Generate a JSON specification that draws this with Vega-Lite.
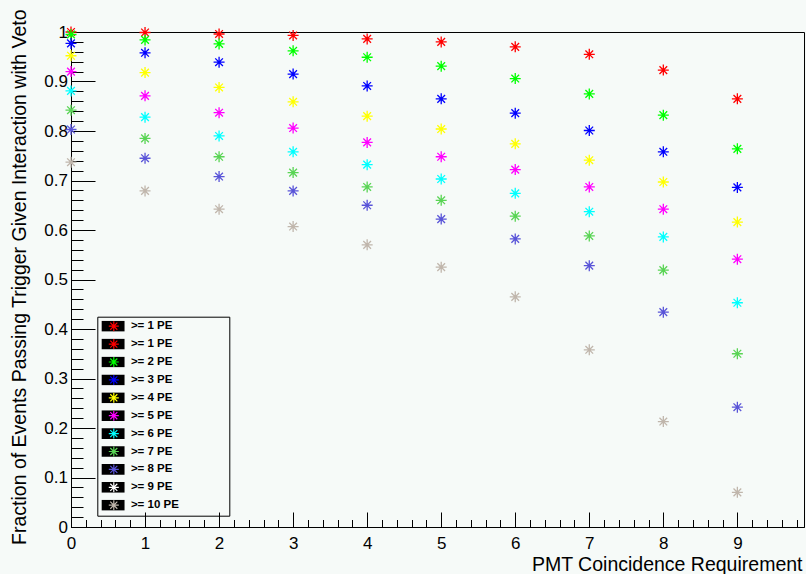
{
"$schema": "https://vega.github.io/schema/vega-lite/v6.json",
"width": 733, "height": 495,
"autosize": {"type": "none"},
"padding": {"left": 71, "top": 32, "right": 2, "bottom": 47},
"background": "#f6faf8",
"config": {"view": {"stroke": "black", "strokeWidth": 1}, "font": "Liberation Sans", "legend": {"strokeWidth": 1}},
"data": {"values": [
{"x":0,"y":1.0,"series":">= 1 PE"},{"x":0,"y":0.995,"series":">= 2 PE"},{"x":0,"y":0.977,"series":">= 3 PE"},{"x":0,"y":0.952,"series":">= 4 PE"},{"x":0,"y":0.920,"series":">= 5 PE"},{"x":0,"y":0.881,"series":">= 6 PE"},{"x":0,"y":0.842,"series":">= 7 PE"},{"x":0,"y":0.803,"series":">= 8 PE"},{"x":0,"y":0.737,"series":">= 10 PE"},
{"x":1,"y":0.999,"series":">= 1 PE"},{"x":1,"y":0.984,"series":">= 2 PE"},{"x":1,"y":0.958,"series":">= 3 PE"},{"x":1,"y":0.918,"series":">= 4 PE"},{"x":1,"y":0.871,"series":">= 5 PE"},{"x":1,"y":0.828,"series":">= 6 PE"},{"x":1,"y":0.785,"series":">= 7 PE"},{"x":1,"y":0.745,"series":">= 8 PE"},{"x":1,"y":0.679,"series":">= 10 PE"},
{"x":2,"y":0.996,"series":">= 1 PE"},{"x":2,"y":0.976,"series":">= 2 PE"},{"x":2,"y":0.939,"series":">= 3 PE"},{"x":2,"y":0.888,"series":">= 4 PE"},{"x":2,"y":0.837,"series":">= 5 PE"},{"x":2,"y":0.790,"series":">= 6 PE"},{"x":2,"y":0.748,"series":">= 7 PE"},{"x":2,"y":0.708,"series":">= 8 PE"},{"x":2,"y":0.642,"series":">= 10 PE"},
{"x":3,"y":0.993,"series":">= 1 PE"},{"x":3,"y":0.962,"series":">= 2 PE"},{"x":3,"y":0.915,"series":">= 3 PE"},{"x":3,"y":0.859,"series":">= 4 PE"},{"x":3,"y":0.806,"series":">= 5 PE"},{"x":3,"y":0.758,"series":">= 6 PE"},{"x":3,"y":0.716,"series":">= 7 PE"},{"x":3,"y":0.679,"series":">= 8 PE"},{"x":3,"y":0.607,"series":">= 10 PE"},
{"x":4,"y":0.986,"series":">= 1 PE"},{"x":4,"y":0.949,"series":">= 2 PE"},{"x":4,"y":0.891,"series":">= 3 PE"},{"x":4,"y":0.830,"series":">= 4 PE"},{"x":4,"y":0.777,"series":">= 5 PE"},{"x":4,"y":0.732,"series":">= 6 PE"},{"x":4,"y":0.687,"series":">= 7 PE"},{"x":4,"y":0.650,"series":">= 8 PE"},{"x":4,"y":0.570,"series":">= 10 PE"},
{"x":5,"y":0.980,"series":">= 1 PE"},{"x":5,"y":0.931,"series":">= 2 PE"},{"x":5,"y":0.865,"series":">= 3 PE"},{"x":5,"y":0.804,"series":">= 4 PE"},{"x":5,"y":0.748,"series":">= 5 PE"},{"x":5,"y":0.703,"series":">= 6 PE"},{"x":5,"y":0.660,"series":">= 7 PE"},{"x":5,"y":0.622,"series":">= 8 PE"},{"x":5,"y":0.525,"series":">= 10 PE"},
{"x":6,"y":0.970,"series":">= 1 PE"},{"x":6,"y":0.906,"series":">= 2 PE"},{"x":6,"y":0.836,"series":">= 3 PE"},{"x":6,"y":0.774,"series":">= 4 PE"},{"x":6,"y":0.722,"series":">= 5 PE"},{"x":6,"y":0.674,"series":">= 6 PE"},{"x":6,"y":0.628,"series":">= 7 PE"},{"x":6,"y":0.582,"series":">= 8 PE"},{"x":6,"y":0.465,"series":">= 10 PE"},
{"x":7,"y":0.955,"series":">= 1 PE"},{"x":7,"y":0.875,"series":">= 2 PE"},{"x":7,"y":0.801,"series":">= 3 PE"},{"x":7,"y":0.741,"series":">= 4 PE"},{"x":7,"y":0.687,"series":">= 5 PE"},{"x":7,"y":0.637,"series":">= 6 PE"},{"x":7,"y":0.588,"series":">= 7 PE"},{"x":7,"y":0.528,"series":">= 8 PE"},{"x":7,"y":0.358,"series":">= 10 PE"},
{"x":8,"y":0.923,"series":">= 1 PE"},{"x":8,"y":0.832,"series":">= 2 PE"},{"x":8,"y":0.758,"series":">= 3 PE"},{"x":8,"y":0.697,"series":">= 4 PE"},{"x":8,"y":0.642,"series":">= 5 PE"},{"x":8,"y":0.586,"series":">= 6 PE"},{"x":8,"y":0.519,"series":">= 7 PE"},{"x":8,"y":0.434,"series":">= 8 PE"},{"x":8,"y":0.213,"series":">= 10 PE"},
{"x":9,"y":0.865,"series":">= 1 PE"},{"x":9,"y":0.764,"series":">= 2 PE"},{"x":9,"y":0.686,"series":">= 3 PE"},{"x":9,"y":0.616,"series":">= 4 PE"},{"x":9,"y":0.541,"series":">= 5 PE"},{"x":9,"y":0.453,"series":">= 6 PE"},{"x":9,"y":0.350,"series":">= 7 PE"},{"x":9,"y":0.242,"series":">= 8 PE"},{"x":9,"y":0.070,"series":">= 10 PE"}
]},
"layer": [
{
"mark": {"type": "point", "shape": "M0,-1L0,1M-1,0L1,0M-0.7,-0.7L0.7,0.7M-0.7,0.7L0.7,-0.7", "filled": false, "size": 121, "strokeWidth": 1.3, "opacity": 1},
"encoding": {
"x": {"field": "x", "type": "quantitative", "scale": {"domain": [0, 9.9], "nice": false, "zero": false},
 "axis": {"orient": "bottom", "values": [0,1,2,3,4,5,6,7,8,9], "format": "d", "tickSize": -15, "tickColor": "black", "tickWidth": 1, "domainColor": "black", "domainWidth": 1, "grid": false, "labelFlush": false, "labelOverlap": false, "labelFont": "Liberation Sans", "labelFontSize": 17, "labelColor": "black", "labelPadding": 23.4, "title": "PMT Coincidence Requirement", "titleFont": "Liberation Sans", "titleFontSize": 19.5, "titleFontWeight": "normal", "titleColor": "black", "titleAnchor": "end", "titleAlign": "right", "titleX": 731, "titleY": 43.7, "titleBaseline": "alphabetic"}},
"y": {"field": "y", "type": "quantitative", "scale": {"domain": [0, 1], "nice": false, "zero": false},
 "axis": {"orient": "left", "values": [0,0.1,0.2,0.3,0.4,0.5,0.6,0.7,0.8,0.9,1], "format": "~g", "tickSize": -24, "tickColor": "black", "tickWidth": 1, "domainColor": "black", "domainWidth": 1, "grid": false, "labelOverlap": false, "labelFlush": false, "labelFont": "Liberation Sans", "labelFontSize": 17, "labelColor": "black", "labelPadding": 27.5, "title": "Fraction of Events Passing Trigger Given Interaction with Veto", "titleFont": "Liberation Sans", "titleFontSize": 19.5, "titleFontWeight": "normal", "titleColor": "black", "titleAnchor": "end", "titleAlign": "right", "titleAngle": -90, "titleX": -46, "titleY": -23, "titleBaseline": "alphabetic"}},
"stroke": {"field": "series", "type": "nominal",
 "scale": {"domain": [">= 1 PE ", ">= 1 PE", ">= 2 PE", ">= 3 PE", ">= 4 PE", ">= 5 PE", ">= 6 PE", ">= 7 PE", ">= 8 PE", ">= 9 PE", ">= 10 PE"],
  "range": ["#ff0000", "#ff0000", "#00ff00", "#0000ff", "#ffff00", "#ff00ff", "#00ffff", "#59d454", "#5954d8", "#ffffff", "#c0b6ac"]},
 "legend": {"orient": "none", "legendX": 26.3, "legendY": 284.7, "title": null, "symbolType": "M1.09,-0.91L1.09,0.91M0.18,0L2,0M0.45,-0.64L1.73,0.64M0.45,0.64L1.73,-0.64", "symbolSize": 121, "symbolStrokeWidth": 1.2, "symbolFillColor": "transparent", "labelFont": "Liberation Sans", "labelFontSize": 11.5, "labelFontWeight": "bold", "labelColor": "black", "labelOffset": 16.6, "clipHeight": 11, "rowPadding": 5.9, "padding": 4, "zindex": 2}},
"fill": {"field": "series", "type": "nominal",
 "scale": {"domain": [">= 10 PE", ">= 9 PE", ">= 8 PE", ">= 7 PE", ">= 6 PE", ">= 5 PE", ">= 4 PE", ">= 3 PE", ">= 2 PE", ">= 1 PE", ">= 1 PE "],
  "range": ["black", "black", "black", "black", "black", "black", "black", "black", "black", "black", "black"]},
 "legend": {"orient": "none", "legendX": 26.3, "legendY": 284.7, "title": null, "symbolType": "M-1,-0.97H3.18V0.97H-1Z", "symbolSize": 121, "symbolStrokeWidth": 0, "symbolStrokeColor": "transparent", "labelExpr": "''", "labelFont": "Liberation Sans", "labelFontSize": 11.5, "labelFontWeight": "bold", "labelColor": "transparent", "labelOffset": 111.7, "clipHeight": 11, "rowPadding": 5.9, "padding": 4, "strokeColor": "black", "zindex": 1}}
}
},
{
"mark": {"type": "point", "opacity": 0},
"encoding": {
"x": {"field": "x", "type": "quantitative", "scale": {"domain": [0, 9.9], "nice": false, "zero": false},
 "axis": {"orient": "bottom", "values": [0.2,0.4,0.6,0.8,1.2,1.4,1.6,1.8,2.2,2.4,2.6,2.8,3.2,3.4,3.6,3.8,4.2,4.4,4.6,4.8,5.2,5.4,5.6,5.8,6.2,6.4,6.6,6.8,7.2,7.4,7.6,7.8,8.2,8.4,8.6,8.8,9.2,9.4,9.6,9.8], "tickSize": -7.5, "tickColor": "black", "tickWidth": 1, "domain": false, "labels": false, "grid": false, "title": null}},
"y": {"field": "y", "type": "quantitative", "scale": {"domain": [0, 1], "nice": false, "zero": false},
 "axis": {"orient": "left", "values": [0.02,0.04,0.06,0.08,0.12,0.14,0.16,0.18,0.22,0.24,0.26,0.28,0.32,0.34,0.36,0.38,0.42,0.44,0.46,0.48,0.52,0.54,0.56,0.58,0.62,0.64,0.66,0.68,0.72,0.74,0.76,0.78,0.82,0.84,0.86,0.88,0.92,0.94,0.96,0.98], "tickSize": -12, "tickColor": "black", "tickWidth": 1, "domain": false, "labels": false, "grid": false, "title": null}}
}
}
],
"resolve": {"axis": {"x": "independent", "y": "independent"}}
}
